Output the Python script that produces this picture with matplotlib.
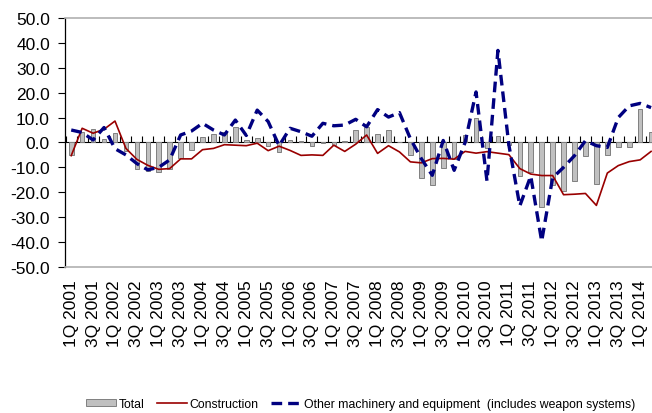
import numpy as np
import matplotlib.pyplot as plt
from matplotlib.patches import Patch
from matplotlib.lines import Line2D

plt.rcParams['font.family'] = ['Liberation Sans', 'DejaVu Sans']

quarters = [f"{q}Q {y}" for y in range(2001, 2015) for q in (1, 2, 3, 4)][:54]

total = [-5, 4.4, 5.3, 1.3, 3.7, -3.6, -10.5, -11.6, -11.8, -10.8,
         -6.3, -3, 2.3, 3.3, 4, 6.4, 1.1, 1.7, -1.5, -4,
         1, 0.4, -1.3, -0.3, -1, 0.4, 5, 6.4, 3.4, 5,
         0.2, -5.1, -14.4, -17.3, -10.4, -6.8, 2.9, 10, -2.4, 2.4,
         -1.2, -13.3, -12, -26, -17.3, -19.7, -15.3, -5.6, -16.8, -5,
         -2, -2, 13.3, 4]

construction = [-5.3, 5.7, 3.7, 5.3, 8.6, -2.4, -6.8, -9.2, -10.8, -10.5,
                -6.6, -6.6, -2.9, -2.4, -0.9, -1.1, -1.3, -0.3, -3.3, -1.5,
                -3.2, -5.2, -5, -5.2, -1.1, -3.6, -0.7, 3, -4.4, -1.3,
                -3.8, -7.8, -8.2, -6.5, -6.4, -6.7, -3.6, -4.3, -3.7, -4.3,
                -4.9, -10.5, -12.7, -13.3, -13.3, -21, -20.8, -20.5, -25.3, -12.3,
                -9.3, -7.7, -7, -3.6]

machinery = [5, 4, 1, 6, -2.5, -5, -8.5, -11, -10, -7,
             3, 4.6, 7.7, 5, 3, 9, 2.8, 13, 8.4, -1.3,
             5.7, 4.3, 2.5, 7.7, 6.7, 7, 9.3, 6.3, 13.2, 10.2,
             12, 1.5, -6.5, -13.2, 0.8, -11.2, 0, 20.3, -15.5, 37,
             -1, -25.5, -13.5, -39.7, -14.2, -10, -5.3, 0.7, -1.3, -2,
             10, 14.7, 15.7, 14]

x = np.arange(len(quarters))

fig = plt.figure(figsize=(6.52, 4.14), dpi=100)
ax = fig.add_axes([0.1, 0.353, 0.907, 0.601])

ax.bar(x, total, width=0.42, color='#c0c0c0', edgecolor='#808080', linewidth=0.7, zorder=2)
ax.plot(x, construction, color='#990000', linewidth=1.2, zorder=3)
ax.plot(x, machinery, color='#000080', linewidth=2.4, linestyle=(0, (3.2, 1.8)), zorder=4)

ax.set_xlim(-0.55, len(quarters) - 0.5)
ax.set_ylim(-50, 50)
ax.set_yticks(np.arange(-50, 51, 10))
ax.set_yticklabels([f"{v:.1f}" for v in np.arange(-50, 51, 10)], fontsize=12.5)
ax.tick_params(axis='y', direction='out', length=5, width=0.8, pad=6)

ax.set_xticks(x[::2])
ax.set_xticklabels(quarters[::2], rotation=90, fontsize=12.5)
ax.tick_params(axis='x', length=0, pad=9)

for s in ('top', 'bottom'):
    ax.spines[s].set_color('#b0b0b0')
    ax.spines[s].set_linewidth(1.2)
ax.spines['right'].set_visible(False)
ax.spines['left'].set_linewidth(0.9)

# zero line with quarter ticks
zero = ax.secondary_xaxis(0.5)
zero.set_xticks(np.arange(-0.5, len(quarters), 1))
zero.set_xticklabels([])
zero.tick_params(direction='out', length=4, width=0.8)
zero.spines['bottom'].set_linewidth(1.0)

handles = [Patch(facecolor='#c0c0c0', edgecolor='#808080', linewidth=0.7),
           Line2D([], [], color='#990000', linewidth=1.2),
           Line2D([], [], color='#000080', linewidth=2.4, linestyle=(0, (3.2, 1.8)))]
labels = ['Total', 'Construction', 'Other machinery and equipment  (includes weapon systems)']
fig.legend(handles, labels, loc='center', bbox_to_anchor=(0.553, 0.022), ncol=3,
           frameon=False, fontsize=8.8, handlelength=2.5, handleheight=0.5,
           handletextpad=0.2, columnspacing=1.0, borderpad=0)

fig.savefig('out.png', dpi=100)
